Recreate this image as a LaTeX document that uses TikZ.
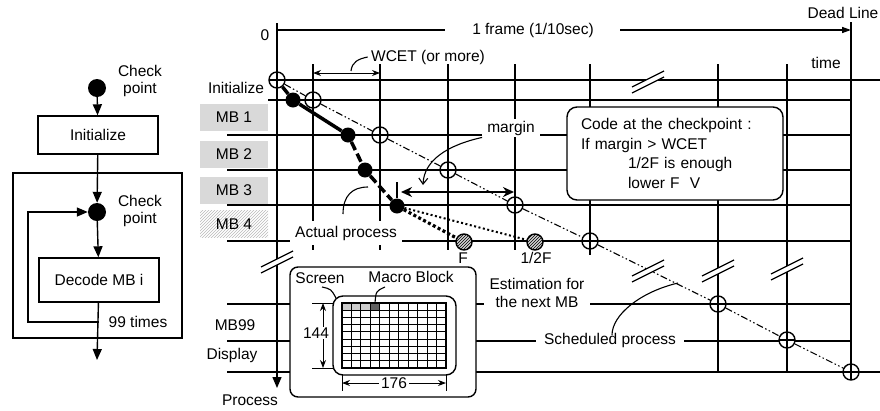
\documentclass[tikz,border=0pt]{standalone}
\usepackage{fontspec}
\setmainfont{Liberation Sans}
\usetikzlibrary{arrows.meta, positioning, patterns, calc}

\begin{document}
\begin{tikzpicture}[x=1pt, y=-1pt,
  every node/.style={font=\fontsize{15.5}{17.5}\selectfont},
  grid/.style={line width=1.4pt},
  chk/.style={circle, fill, inner sep=0pt, minimum size=18pt},
  sched/.style={circle, draw, line width=1.4pt, fill=white, inner sep=0pt, minimum size=16pt,
    path picture={\draw[line width=1.1pt] (path picture bounding box.north) -- (path picture bounding box.south)
      (path picture bounding box.west) -- (path picture bounding box.east);}},
  act/.style={circle, fill, inner sep=0pt, minimum size=15pt},
  est/.style={circle, draw, line width=1.4pt, inner sep=0pt, minimum size=16pt, preaction={fill=gray!35}, pattern=north east lines},
  mb/.style={rectangle, fill=gray!30, minimum width=68pt, minimum height=27pt},
  box/.style={rectangle, draw, line width=1.4pt, minimum width=120pt, align=center},
  lbl/.style={fill=white, inner xsep=5pt, inner ysep=2pt},
  arr/.style={-{Triangle[length=11pt, width=9pt]}, line width=1.4pt},
  dim/.style={{Stealth[length=8pt]}-{Stealth[length=8pt]}, line width=1pt},
  lead/.style={line width=1.1pt},
  brk/.pic={\fill[white] (-16,6) -- (16,-10) -- (16,-4) -- (-16,12) -- cycle;
    \draw[line width=1.2pt] (-16,6) -- (16,-10) (-16,12) -- (16,-4);},
]
  \useasboundingbox (0,0) rectangle (880,410);

  % Flow chart
  \node[chk] (c1) at (97,88) {};
  \node[align=center] (c1l) at (140,81) {Check\\point};
  \node[box, minimum height=38pt] (init) at (98,135) {Initialize};
  \node[chk] (c2) at (97,212) {};
  \node[align=center] (c2l) at (140,211) {Check\\point};
  \node[box, minimum height=44pt] (dec) at (99,280) {Decode MB i};
  \draw[grid] (13,173) rectangle (182,338);
  \coordinate (out) at (97,360);
  \coordinate (lp) at (28,322);
  \draw[arr] (c1) -- (init);
  \draw[arr] (init) -- (c2);
  \draw[arr] (c2) -- (dec);
  \draw[arr] (dec) -- (out);
  \draw[arr] (dec.south |- lp) -- (lp) |- (c2);
  \node (times) at (138,322) {99 times};

  % Time axis and frame
  \node (zero) at (265,35) {0};
  \node (frame) at (533,30) {1 frame (1/10sec)};
  \node (dead) at (843,13) {Dead Line};
  \node (time) at (826,63) {time};
  \coordinate (dl) at (851,30);
  \draw[grid] (278,30) -- (445,30);
  \draw[grid, -{Triangle[length=9pt, width=6pt]}] (620,30) -- (dl);
  \draw[grid] (851,22) -- (851,378);
  \draw[arr] (277,23) -- (277,388);
  \node (proc) at (250,400) {Process};

  % Rows
  \draw[line width=2.4pt] (277,80) -- (880,80);
  \draw[grid] (268,100) -- (851,100);
  \foreach \y in {135,170,205,241,304,341}
    \draw[grid] (227,\y) -- (851,\y);
  \draw[grid] (227,372) -- (880,372);

  % Columns
  \foreach \x/\b in {313/250, 380/250, 448/250, 515/250, 590/255, 718/372, 787/372}
    \draw[grid] (\x,64) -- (\x,\b);

  % Row labels
  \node (initl) at (236,88) {Initialize};
  \node[mb] (mb1) at (234,117) {MB 1};
  \node[mb] (mb2) at (234,154.5) {MB 2};
  \node[mb] (mb3) at (234,190) {MB 3};
  \node[mb, pattern=north east lines, pattern color=gray!55] (mb4) at (234,224) {MB 4};
  \node (mb99) at (235,325) {MB99};
  \node (disp) at (232,355) {Display};

  % WCET
  \coordinate (w1) at (313,73);
  \coordinate (w2) at (380,73);
  \draw[dim] (w1) -- (w2);
  \node (wcet) at (428,57) {WCET (or more)};
  \draw[lead] (351,71) .. controls (352,62) and (358,59) .. (wcet.west);

  % Labels over the grid
  \node[lbl] (ml) at (511,128) {margin};
  \node[lbl, inner ysep=5pt] (ap) at (346,233) {Actual process};
  \node[lbl, align=center, inner xsep=6pt] (estl) at (537,293) {Estimation for\\the next MB};
  \node[lbl, inner xsep=8pt] (spl) at (610,340) {Scheduled process};

  % Checkpoint code
  \node[draw, line width=1.4pt, rounded corners=10pt, fill=white, minimum width=216pt, minimum height=93pt,
    text width=188pt, align=left, font=\fontsize{15.5}{19.5}\selectfont] (code) at (675,153.5)
    {Code at the checkpoint :\\If margin > WCET\\\hspace*{47pt}1/2F is enough\\\hspace*{47pt}lower F\ \ V};

  % Scheduled process
  \foreach \i/\x/\y in {0/277/80, 1/313/100, 2/380/135, 3/448/170, 4/515/205, 5/590/241, 6/718/304, 7/787/340, 8/851/372}
    \node[sched] (s\i) at (\x,\y) {};
  \draw[line width=1.1pt, dash pattern=on 7pt off 2.5pt on 1.5pt off 2.5pt on 1.5pt off 2.5pt]
    (s0) -- (s1) -- (s2) -- (s3) -- (s4) -- (s5) -- (s6) -- (s7) -- (s8);
  \draw[lead] (678,283) .. controls (640,292) and (612,315) .. (612,335);

  % Actual process
  \node[act] (a1) at (293,100) {};
  \node[act] (a2) at (348,135) {};
  \node[act] (a3) at (365,170) {};
  \node[act] (a4) at (397,206) {};
  \draw[line width=3.5pt] (s0) -- (a1) -- (a2);
  \draw[line width=3.5pt, dash pattern=on 9pt off 4pt] (a2) -- (a3) -- (a4);
  \draw[lead] (343,214) .. controls (343,196) and (352,187) .. (368,187);

  % Estimation for the next MB
  \node[est] (f1) at (464,242) {};
  \node[est] (f2) at (535,242) {};
  \node (fl) at (463,258) {F};
  \node (f2l) at (536,258) {1/2F};
  \draw[line width=3.2pt, dash pattern=on 3pt off 2.5pt] (a4) -- (f1);
  \draw[line width=2pt, dash pattern=on 2pt off 2.5pt] (a4) -- (f2);

  % Margin
  \coordinate (m1) at (401,192);
  \coordinate (m2) at (514,192);
  \coordinate (mt) at (423,185);
  \draw[grid] (397,182) -- (397,198);
  \draw[line width=2.6pt, {Stealth[length=11pt, width=10pt]}-{Stealth[length=11pt, width=10pt]}] (m1) -- (m2);
  \draw[lead, -{Straight Barb[length=6pt, width=9pt]}] (ml.south west) .. controls (448,145) and (424,160) .. (mt);

  % Breaks
  \pic at (648,81) {brk};
  \pic at (277,261) {brk};
  \pic at (648,270) {brk};
  \pic at (718,270) {brk};
  \pic at (787,268) {brk};

  % Screen inset
  \node[draw, line width=1.4pt, rounded corners=8pt, fill=white, minimum width=186pt, minimum height=130pt] (inset) at (383,332) {};
  \node[draw, line width=1.4pt, rounded corners=10pt, minimum width=123pt, minimum height=79pt] (scr) at (394.5,335.5) {};
  \foreach \i in {0,1,2}
    \fill[gray!40] ({342+\i*104/11},303) rectangle ({342+(\i+1)*104/11},{303+65/9});
  \fill[gray!75!black] ({342+3*104/11},303) rectangle ({342+4*104/11},{303+65/9});
  \foreach \i in {1,...,10}
    \draw[line width=1pt] ({342+\i*104/11},303) -- ({342+\i*104/11},368);
  \foreach \j in {1,...,8}
    \draw[line width=1pt] (342,{303+\j*65/9}) -- (446,{303+\j*65/9});
  \draw[grid] (342,303) rectangle (446,368);
  \node (scrl) at (320,278) {Screen};
  \node (mbl) at (411,277) {Macro Block};
  \draw[lead] (322,287) .. controls (331,289) .. (336,298);
  \draw[lead] (385,287) .. controls (376,291) .. (375,303);
  \draw[line width=1pt] (312,303) -- (333,303) (312,368) -- (333,368);
  \draw[dim] (323,303) -- (323,368);
  \node[fill=white, inner sep=1pt] (h144) at (316,333) {144};
  \draw[line width=1pt] (342,374) -- (342,391) (446,374) -- (446,391);
  \draw[dim] (342,383) -- (446,383);
  \node[fill=white, inner sep=2pt] (w176) at (394,383) {176};
\end{tikzpicture}
\end{document}
